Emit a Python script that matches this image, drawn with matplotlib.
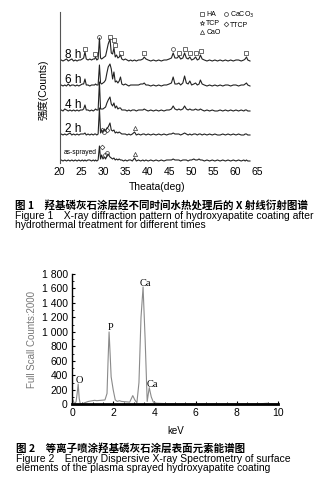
import numpy as np
import matplotlib
matplotlib.use("Agg")
import matplotlib.pyplot as plt
from matplotlib.ticker import MultipleLocator, FuncFormatter
from matplotlib.lines import Line2D

plt.rcParams['font.family'] = ['Liberation Sans', 'Noto Sans CJK SC']

# ---- Figure 1: XRD patterns ----
two_theta = [20.0, 20.4, 20.8, 21.2, 21.6, 22.0, 22.4, 22.8, 23.2, 23.6,
             24.0, 24.4, 24.8, 25.2, 25.5, 25.8, 26.1, 26.5, 26.9, 27.3,
             27.7, 28.0, 28.2, 28.5, 28.8, 29.1, 29.35, 29.6, 29.9, 30.2,
             30.5, 30.8, 31.1, 31.5, 31.8, 32.1, 32.4, 32.7, 33.0, 33.3,
             33.6, 33.9, 34.2, 34.6, 35.0, 35.4, 35.8, 36.2, 36.6, 37.1,
             37.5, 38.0, 38.5, 39.0, 39.3, 39.7, 40.2, 40.8, 41.4, 42.0,
             42.6, 43.2, 43.8, 44.4, 45.0, 45.5, 45.9, 46.3, 46.8, 47.2,
             47.6, 48.1, 48.5, 48.9, 49.3, 49.7, 50.1, 50.6, 51.0, 51.4,
             51.8, 52.1, 52.5, 53.0, 53.6, 54.2, 54.8, 55.4, 56.0, 56.6,
             57.2, 57.8, 58.4, 59.0, 59.6, 60.2, 60.8, 61.4, 62.0, 62.3,
             62.6, 62.9, 63.4]

i_8h = [1, 2, 1, 2, 3, 1, 2, 3, 1, 2,
        1, 2, 2, 3, 4, 10, 3, 2, 3, 2,
        3, 3, 5, 2, 3, 24, 4, 3, 4, 5,
        6, 12, 18, 23, 9, 8, 14, 5, 7, 4,
        5, 7, 3, 2, 3, 2, 1, 2, 1, 2,
        1, 2, 2, 3, 5, 3, 2, 1, 2, 1,
        2, 1, 2, 2, 3, 4, 9, 4, 4, 6,
        3, 4, 9, 4, 3, 5, 2, 3, 5, 2,
        3, 7, 3, 2, 1, 2, 1, 2, 1, 2,
        1, 2, 1, 2, 1, 2, 2, 1, 2, 3,
        5, 2, 1]
i_6h = [1, 2, 1, 2, 1, 3, 1, 2, 2, 1,
        2, 1, 2, 3, 3, 8, 2, 2, 1, 2,
        2, 2, 3, 2, 2, 22, 4, 3, 4, 5,
        7, 14, 20, 23, 18, 8, 15, 5, 6, 4,
        6, 10, 3, 2, 3, 2, 1, 2, 2, 2,
        2, 2, 3, 3, 4, 2, 2, 1, 2, 1,
        2, 1, 2, 2, 3, 4, 10, 3, 3, 4,
        2, 4, 11, 4, 3, 6, 2, 3, 4, 2,
        3, 7, 3, 2, 1, 2, 1, 2, 1, 2,
        1, 2, 2, 1, 2, 2, 1, 2, 2, 3,
        4, 2, 1]
i_4h = [1, 2, 1, 3, 2, 1, 2, 1, 2, 1,
        2, 1, 2, 2, 3, 7, 2, 2, 1, 2,
        1, 2, 3, 2, 2, 30, 3, 3, 3, 4,
        5, 9, 12, 15, 8, 6, 9, 4, 6, 3,
        4, 4, 2, 2, 2, 1, 2, 1, 2, 2,
        1, 2, 2, 2, 3, 2, 1, 2, 1, 2,
        1, 2, 1, 2, 2, 3, 6, 3, 2, 3,
        2, 3, 6, 3, 2, 3, 2, 2, 3, 2,
        2, 3, 2, 1, 2, 1, 2, 1, 1, 2,
        1, 2, 1, 2, 1, 2, 1, 2, 1, 2,
        2, 1, 1]
i_2h = [1, 2, 1, 2, 1, 2, 3, 1, 2, 1,
        2, 1, 2, 2, 2, 3, 1, 2, 1, 2,
        1, 2, 2, 1, 2, 28, 3, 6, 4, 7,
        5, 8, 9, 13, 6, 5, 6, 3, 4, 3,
        4, 3, 2, 2, 2, 1, 2, 1, 2, 4,
        1, 2, 1, 2, 2, 1, 2, 1, 2, 1,
        2, 1, 2, 1, 2, 2, 3, 2, 2, 2,
        1, 2, 3, 2, 1, 2, 1, 2, 2, 1,
        2, 2, 1, 2, 1, 2, 1, 2, 1, 1,
        2, 1, 2, 1, 2, 1, 2, 1, 1, 2,
        2, 1, 1]
i_sprayed = [1, 2, 1, 2, 1, 2, 1, 2, 1, 2,
             1, 2, 1, 2, 1, 2, 1, 2, 2, 1,
             2, 1, 2, 1, 2, 16, 3, 7, 3, 5,
             3, 6, 8, 5, 4, 3, 4, 2, 3, 2,
             3, 2, 2, 1, 2, 1, 2, 2, 1, 4,
             1, 2, 1, 2, 1, 2, 1, 2, 1, 2,
             1, 2, 1, 2, 2, 2, 3, 2, 2, 2,
             1, 2, 2, 2, 1, 2, 2, 3, 2, 2,
             3, 2, 2, 1, 2, 1, 2, 1, 2, 1,
             2, 1, 2, 1, 2, 1, 2, 1, 2, 1,
             2, 1, 1]

trace_labels = ["8 h", "6 h", "4 h", "2 h", "as-sprayed"]
trace_offsets = [100, 75, 50, 26, 0]

ha_x = [25.8, 28.2, 31.5, 32.5, 32.6, 33.9, 39.3, 47.2, 48.5, 49.7, 51.0, 52.2, 62.6]
ha_y = [113, 108, 125, 122, 117, 109, 109, 109, 113, 109, 109, 111, 109]
caco3_x = [29.1, 45.9, 30.2, 30.4, 30.9]
caco3_y = [125, 113, 30, 7, 9]
ttcp_x = [29.6, 30.8, 29.6]
ttcp_y = [32, 32, 15]
cao_x = [37.1, 37.1]
cao_y = [34, 8]

# ---- Figure 2: EDS spectrum ----
energy = [0.0, 0.05, 0.1, 0.15, 0.2, 0.25, 0.3, 0.35, 0.4, 0.5,
          0.6, 0.8, 1.0, 1.1, 1.2, 1.4, 1.6, 1.7, 1.75, 1.8,
          1.85, 1.9, 2.0, 2.1, 2.2, 2.3, 2.4, 2.6, 2.8, 2.95,
          3.05, 3.15, 3.25, 3.35, 3.45, 3.55, 3.65, 3.75, 3.85, 3.95,
          4.1, 4.5, 5.0, 6.0, 7.0, 8.0, 9.0, 9.5, 9.6, 10.0]
counts = [80, 60, 20, 10, 40, 150, 280, 80, 10, 5,
          20, 40, 50, 55, 50, 55, 60, 150, 600, 1000,
          700, 380, 200, 60, 40, 50, 40, 35, 30, 120,
          60, 20, 300, 1200, 1620, 900, 40, 230, 100, 30,
          15, 10, 8, 6, 6, 5, 5, 15, 5, 5]
peak_names = ["O", "P", "Ca", "Ca"]
peak_x = [0.34, 1.89, 3.54, 3.9]
peak_y = [326, 1066, 1673, 276]

W, H = 335, 499
fig = plt.figure(figsize=(W / 100, H / 100), dpi=100)


def fx(px):
    return px / W


def fy(py):
    return 1 - py / H


# top chart
ax1 = fig.add_axes([fx(59.5), fy(163), fx(197.5), (163 - 12) / H])
for lab, off, vals in zip(trace_labels, trace_offsets, [i_8h, i_6h, i_4h, i_2h, i_sprayed]):
    ax1.plot(two_theta, np.array(vals) + off, color="#222222", lw=0.8)
ax1.plot(ha_x, ha_y, ls="none", marker="s", ms=2.6, mfc="none", mec="#333333", mew=0.5)
ax1.plot(caco3_x, caco3_y, ls="none", marker="o", ms=2.8, mfc="none", mec="#333333", mew=0.5)
ax1.plot(ttcp_x, ttcp_y, ls="none", marker="D", ms=2.4, mfc="none", mec="#333333", mew=0.5)
ax1.plot(cao_x, cao_y, ls="none", marker="^", ms=3, mfc="none", mec="#333333", mew=0.5)

for lab, off in zip(trace_labels[:4], trace_offsets[:4]):
    ax1.text(21.2, off + 7, lab, fontsize=8.5, va="center", ha="left")
ax1.text(21.0, 10, "as-sprayed", fontsize=4.8, va="center", ha="left")

handles = [
    Line2D([], [], ls="none", marker="s", ms=2.6, mfc="none", mec="#333333", mew=0.5),
    Line2D([], [], ls="none", marker="*", ms=3.5, mfc="none", mec="#333333", mew=0.5),
    Line2D([], [], ls="none", marker="^", ms=3, mfc="none", mec="#333333", mew=0.5),
    Line2D([], [], ls="none", marker="o", ms=2.8, mfc="none", mec="#333333", mew=0.5),
    Line2D([], [], ls="none", marker="D", ms=2.4, mfc="none", mec="#333333", mew=0.5),
]
leg = ax1.legend(handles, ["HA", "TCP", "CaO", "CaCO$_3$", "TTCP"], ncol=2,
                 loc="upper right", bbox_to_anchor=(1.01, 1.05), frameon=False,
                 fontsize=5, handlelength=0.7, handletextpad=0.25,
                 columnspacing=0.4, labelspacing=0.3, borderpad=0.2)

ax1.set_xlim(20, 65)
ax1.set_ylim(-1, 150)
ax1.set_xticks([20, 25, 30, 35, 40, 45, 50, 55, 60, 65])
ax1.set_yticks([])
ax1.tick_params(axis="x", length=0, pad=3, labelsize=7.5)
for s in ["top", "right", "bottom"]:
    ax1.spines[s].set_visible(False)
ax1.spines["left"].set_color("#555555")
ax1.spines["left"].set_linewidth(0.8)
ax1.patch.set_alpha(0)

fig.text(fx(43), fy(90), "强度(Counts)", rotation=90, ha="center", va="center", fontsize=7.5)
fig.text(fx(157), fy(187), "Theata(deg)", ha="center", va="center", fontsize=7.5)

# bottom chart
ax2 = fig.add_axes([fx(72), fy(404.3), fx(206), (404.3 - 274) / H])
ax2.plot(energy, counts, color="#8a8a8a", lw=0.8)
for name, x, y in zip(peak_names, peak_x, peak_y):
    ax2.text(x, y, name, family="Liberation Serif", fontsize=7.5, ha="center", va="center")
ax2.set_xlim(0, 10)
ax2.set_ylim(0, 1800)
ax2.xaxis.set_major_locator(MultipleLocator(2))
ax2.xaxis.set_minor_locator(MultipleLocator(0.5))
ax2.yaxis.set_major_locator(MultipleLocator(200))
ax2.yaxis.set_minor_locator(MultipleLocator(100))
ax2.yaxis.set_major_formatter(FuncFormatter(lambda v, p: f"{int(v):,}".replace(",", " ")))
ax2.tick_params(axis="both", which="major", direction="in", length=2.5, width=0.8, labelsize=7.5, pad=3)
ax2.tick_params(axis="both", which="minor", direction="in", length=1.5, width=0.6)
for s in ["top", "right"]:
    ax2.spines[s].set_visible(False)
ax2.spines["bottom"].set_linewidth(2)
ax2.spines["left"].set_linewidth(1)
ax2.patch.set_alpha(0)

fig.text(fx(32), fy(340), "Full Scall Counts:2000", rotation=90, ha="center", va="center",
         fontsize=7, color="#777777")
fig.text(fx(176), fy(431), "keV", ha="center", va="center", fontsize=7)

# captions
fig.text(fx(14.7), fy(205), "图 1\u3000羟基磷灰石涂层经不同时间水热处理后的 X 射线衍射图谱",
         family=["Noto Sans CJK SC"], weight="bold", fontsize=7.55, va="center", ha="left")
fig.text(fx(14.7), fy(215.9), "Figure 1\u3000X-ray diffraction pattern of hydroxyapatite coating after",
         fontsize=7.5, va="center", ha="left")
fig.text(fx(14.7), fy(225.5), "hydrothermal treatment for different times",
         fontsize=7.5, va="center", ha="left")
fig.text(fx(16.5), fy(448.3), "图 2\u3000等离子喷涂羟基磷灰石涂层表面元素能谱图",
         family=["Noto Sans CJK SC"], weight="bold", fontsize=7.55, va="center", ha="left")
fig.text(fx(16.5), fy(458.5), "Figure 2\u3000Energy Dispersive X-ray Spectrometry of surface",
         fontsize=7.5, va="center", ha="left")
fig.text(fx(16.5), fy(467.9), "elements of the plasma sprayed hydroxyapatite coating",
         fontsize=7.5, va="center", ha="left")

fig.savefig("out.png", dpi=100)
